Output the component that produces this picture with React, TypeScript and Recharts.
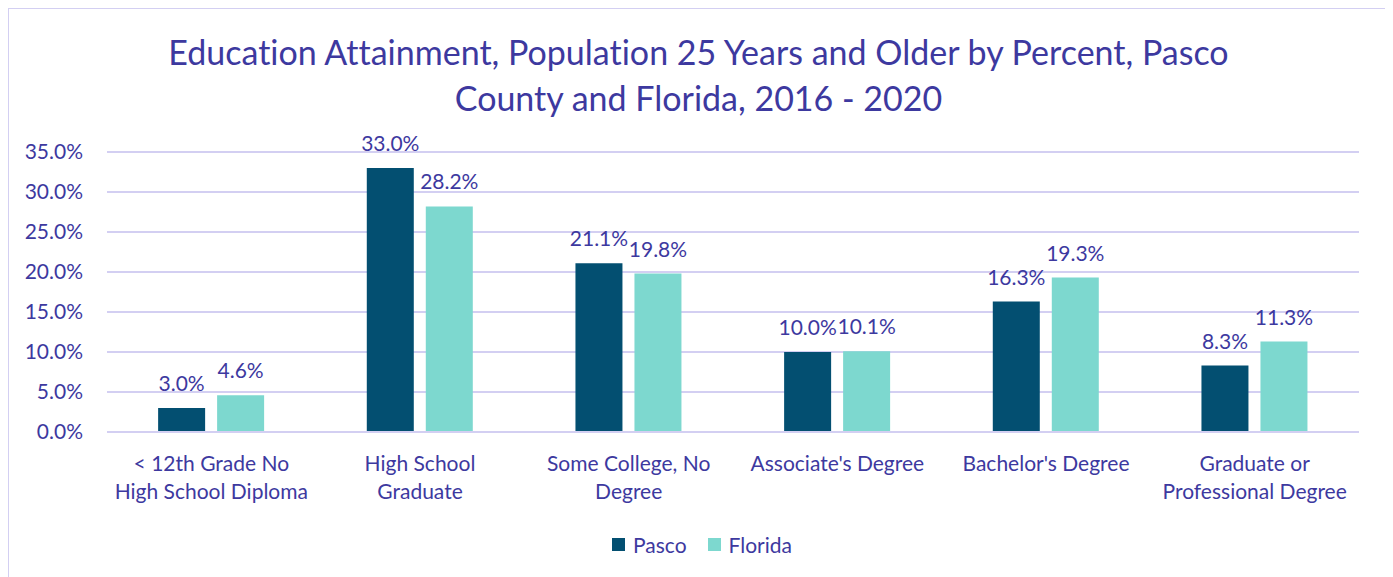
import React from "react";
import { BarChart, Bar, XAxis, YAxis, CartesianGrid, Legend, LabelList } from "recharts";

const categories = [
  "< 12th Grade No High School Diploma",
  "High School Graduate",
  "Some College, No Degree",
  "Associate's Degree",
  "Bachelor's Degree",
  "Graduate or Professional Degree",
];
const categoryLines = [
  ["< 12th Grade No", "High School Diploma"],
  ["High School", "Graduate"],
  ["Some College, No", "Degree"],
  ["Associate's Degree"],
  ["Bachelor's Degree"],
  ["Graduate or", "Professional Degree"],
];
const seriesNames = ["Pasco", "Florida"];
const pasco = [3.0, 33.0, 21.1, 10.0, 16.3, 8.3];
const florida = [4.6, 28.2, 19.8, 10.1, 19.3, 11.3];
const yTicks = [0, 5, 10, 15, 20, 25, 30, 35];
const titleLines = [
  "Education Attainment, Population 25 Years and Older by Percent, Pasco",
  "County and Florida, 2016 - 2020",
];

const data = categories.map((c, i) => ({ category: c, Pasco: pasco[i], Florida: florida[i] }));

const FONT = "Lato, 'Open Sans', sans-serif";
const TEXT = "#3d399f";
const PASCO = "#034f71";
const FLORIDA = "#7dd8cf";
const GRID = "#d3cff2";
const colors: Record<string, string> = { Pasco: PASCO, Florida: FLORIDA };
const noLig = { fontVariantLigatures: "none" as const, fontFeatureSettings: '"liga" 0, "clig" 0' };

const CatTick = (props: any) => {
  const { x, y, payload } = props;
  const lines = categoryLines[categories.indexOf(payload.value)] || [payload.value];
  return (
    <g transform={`translate(${x},${y})`}>
      {lines.map((l: string, i: number) => (
        <text key={i} x={0} y={31 + i * 28} textAnchor="middle" fill={TEXT} fontSize={21} fontFamily={FONT} style={noLig}>
          {l}
        </text>
      ))}
    </g>
  );
};

const LegendContent = () => (
  <div style={{ display: "flex", justifyContent: "center", alignItems: "center", paddingLeft: 36 }}>
    {seriesNames.map((n, i) => (
      <div key={n} style={{ display: "flex", alignItems: "center", marginRight: i === 0 ? 21 : 0 }}>
        <div style={{ width: 13, height: 13, background: colors[n], marginRight: 8 }} />
        <span style={{ color: TEXT, fontSize: 21, fontFamily: FONT, ...noLig }}>{n}</span>
      </div>
    ))}
  </div>
);

export default function App() {
  return (
    <div
      style={{
        position: "relative",
        width: 1379,
        height: 569,
        borderTop: `2px solid ${GRID}`,
        borderLeft: `2px solid ${GRID}`,
        borderRight: `2px solid ${GRID}`,
        marginLeft: -1,
        marginTop: -1,
        background: "#fff",
        fontFamily: FONT,
      }}
    >
      <div
        style={{
          position: "absolute",
          top: 20,
          left: 0,
          width: 1379,
          textAlign: "center",
          color: TEXT,
          fontSize: 34,
          lineHeight: "46px",
          fontFamily: FONT,
          ...noLig,
        }}
      >
        {titleLines.map((t, i) => (
          <div key={i}>{t}</div>
        ))}
      </div>
      <div style={{ position: "absolute", top: 0, left: 0 }}>
        <BarChart
          width={1379}
          height={569}
          data={data}
          margin={{ top: 143, right: 29, left: 0, bottom: 0 }}
          barCategoryGap="24.5%"
          barGap={12}
        >
          <CartesianGrid vertical={false} stroke={GRID} strokeWidth={2} />
          <XAxis
            dataKey="category"
            tick={<CatTick />}
            tickLine={false}
            axisLine={{ stroke: GRID, strokeWidth: 2 }}
            height={100}
            interval={0}
          />
          <YAxis
            domain={[0, 35]}
            ticks={yTicks}
            tickFormatter={(v: number) => `${v.toFixed(1)}%`}
            tick={{ fill: TEXT, fontSize: 21, fontFamily: FONT }}
            tickLine={false}
            tickSize={0}
            tickMargin={24}
            axisLine={false}
            width={98}
          />
          <Legend verticalAlign="bottom" height={46} content={<LegendContent />} />
          <Bar dataKey="Pasco" fill={PASCO} isAnimationActive={false}>
            <LabelList
              dataKey="Pasco"
              position="top"
              offset={17}
              formatter={(v: number) => `${v.toFixed(1)}%`}
              style={{ fill: TEXT, fontSize: 21, fontFamily: FONT }}
            />
          </Bar>
          <Bar dataKey="Florida" fill={FLORIDA} isAnimationActive={false}>
            <LabelList
              dataKey="Florida"
              position="top"
              offset={17}
              formatter={(v: number) => `${v.toFixed(1)}%`}
              style={{ fill: TEXT, fontSize: 21, fontFamily: FONT }}
            />
          </Bar>
        </BarChart>
      </div>
    </div>
  );
}
